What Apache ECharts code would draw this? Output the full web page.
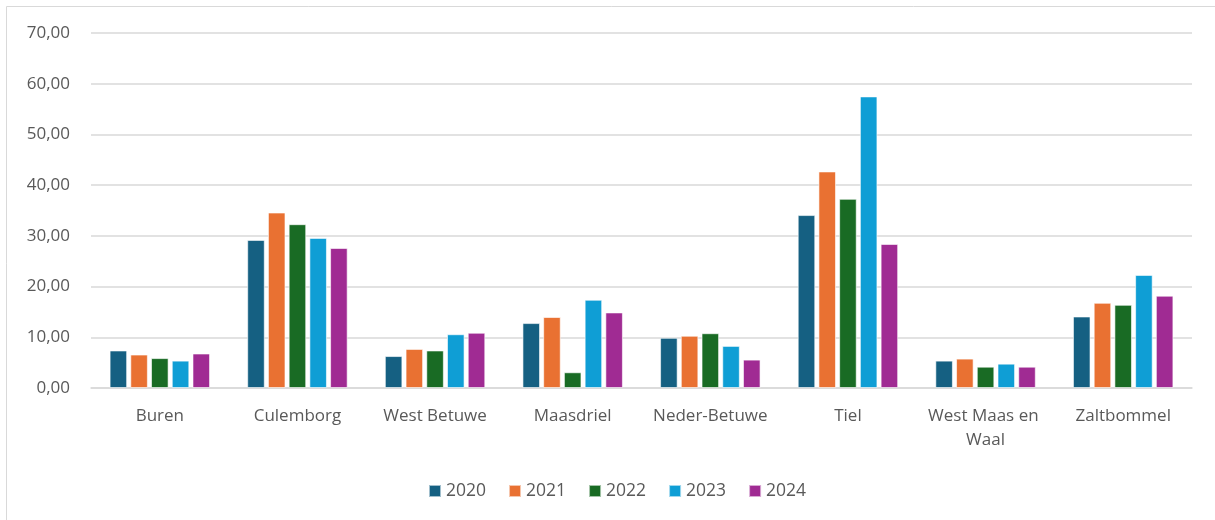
<!DOCTYPE html>
<html><head><meta charset="utf-8">
<script src="https://cdn.jsdelivr.net/npm/echarts@6/dist/echarts.min.js"></script>
<style>html,body{margin:0;padding:0;background:#fff}#c{width:1215px;height:520px}</style>
</head><body><div id="c"></div>
<script>
const categories = ["Buren","Culemborg","West Betuwe","Maasdriel","Neder-Betuwe","Tiel","West Maas en Waal","Zaltbommel"];
const years = ["2020","2021","2022","2023","2024"];
const v2020 = [7.4, 29.2, 6.3, 12.8, 9.9, 34.1, 5.4, 14.1];
const v2021 = [6.6, 34.6, 7.7, 14.0, 10.3, 42.7, 5.8, 16.8];
const v2022 = [5.9, 32.3, 7.4, 3.1, 10.8, 37.3, 4.2, 16.4];
const v2023 = [5.4, 29.6, 10.6, 17.4, 8.3, 57.5, 4.8, 22.3];
const v2024 = [6.8, 27.6, 10.9, 14.9, 5.6, 28.4, 4.2, 18.2];
const yTicks = {min: 0, max: 70, interval: 10};
const colors = ["#156082","#E97132","#196B24","#0F9ED5","#A02B93"];
const values = [v2020, v2021, v2022, v2023, v2024];

const chart = echarts.init(document.getElementById('c'));
const font = "'Open Sans', 'Noto Sans', sans-serif";
chart.setOption({
  animation: false,
  textStyle: {fontFamily: font},
  color: colors,
  graphic: [{type:'rect', shape:{x:6.5,y:6.5,width:1220,height:530}, style:{fill:'none', stroke:'#d9d9d9', lineWidth:1}, silent:true}],
  grid: {left: 91, right: 23, top: 33, bottom: 132, containLabel: false},
  legend: {
    data: years, top: 477, left: 423, itemWidth: 12, itemHeight: 12, itemGap: 22,
    icon: 'rect', textStyle: {fontSize: 17.5, color: '#595959', fontFamily: font}
  },
  xAxis: {
    type: 'category', data: categories,
    axisLine: {lineStyle: {color: '#d9d9d9', width: 1.5}},
    axisTick: {show: false},
    axisLabel: {fontSize: 17, color: '#595959', margin: 16, width: 128, overflow: 'break', lineHeight: 24, interval: 0}
  },
  yAxis: {
    type: 'value', min: yTicks.min, max: yTicks.max, interval: yTicks.interval,
    axisLine: {show: false}, axisTick: {show: false},
    axisLabel: {fontSize: 17, color: '#595959', margin: 21, formatter: v => v.toFixed(2).replace('.', ',')},
    splitLine: {lineStyle: {color: '#d9d9d9', width: 1.5}}
  },
  series: years.map((y, i) => ({
    name: y, type: 'bar', data: values[i], barGap: '18%', barCategoryGap: '27%',
    itemStyle: {color: colors[i], borderColor: 'rgba(255,255,255,0.6)', borderWidth: 1}
  }))
});
</script></body></html>
